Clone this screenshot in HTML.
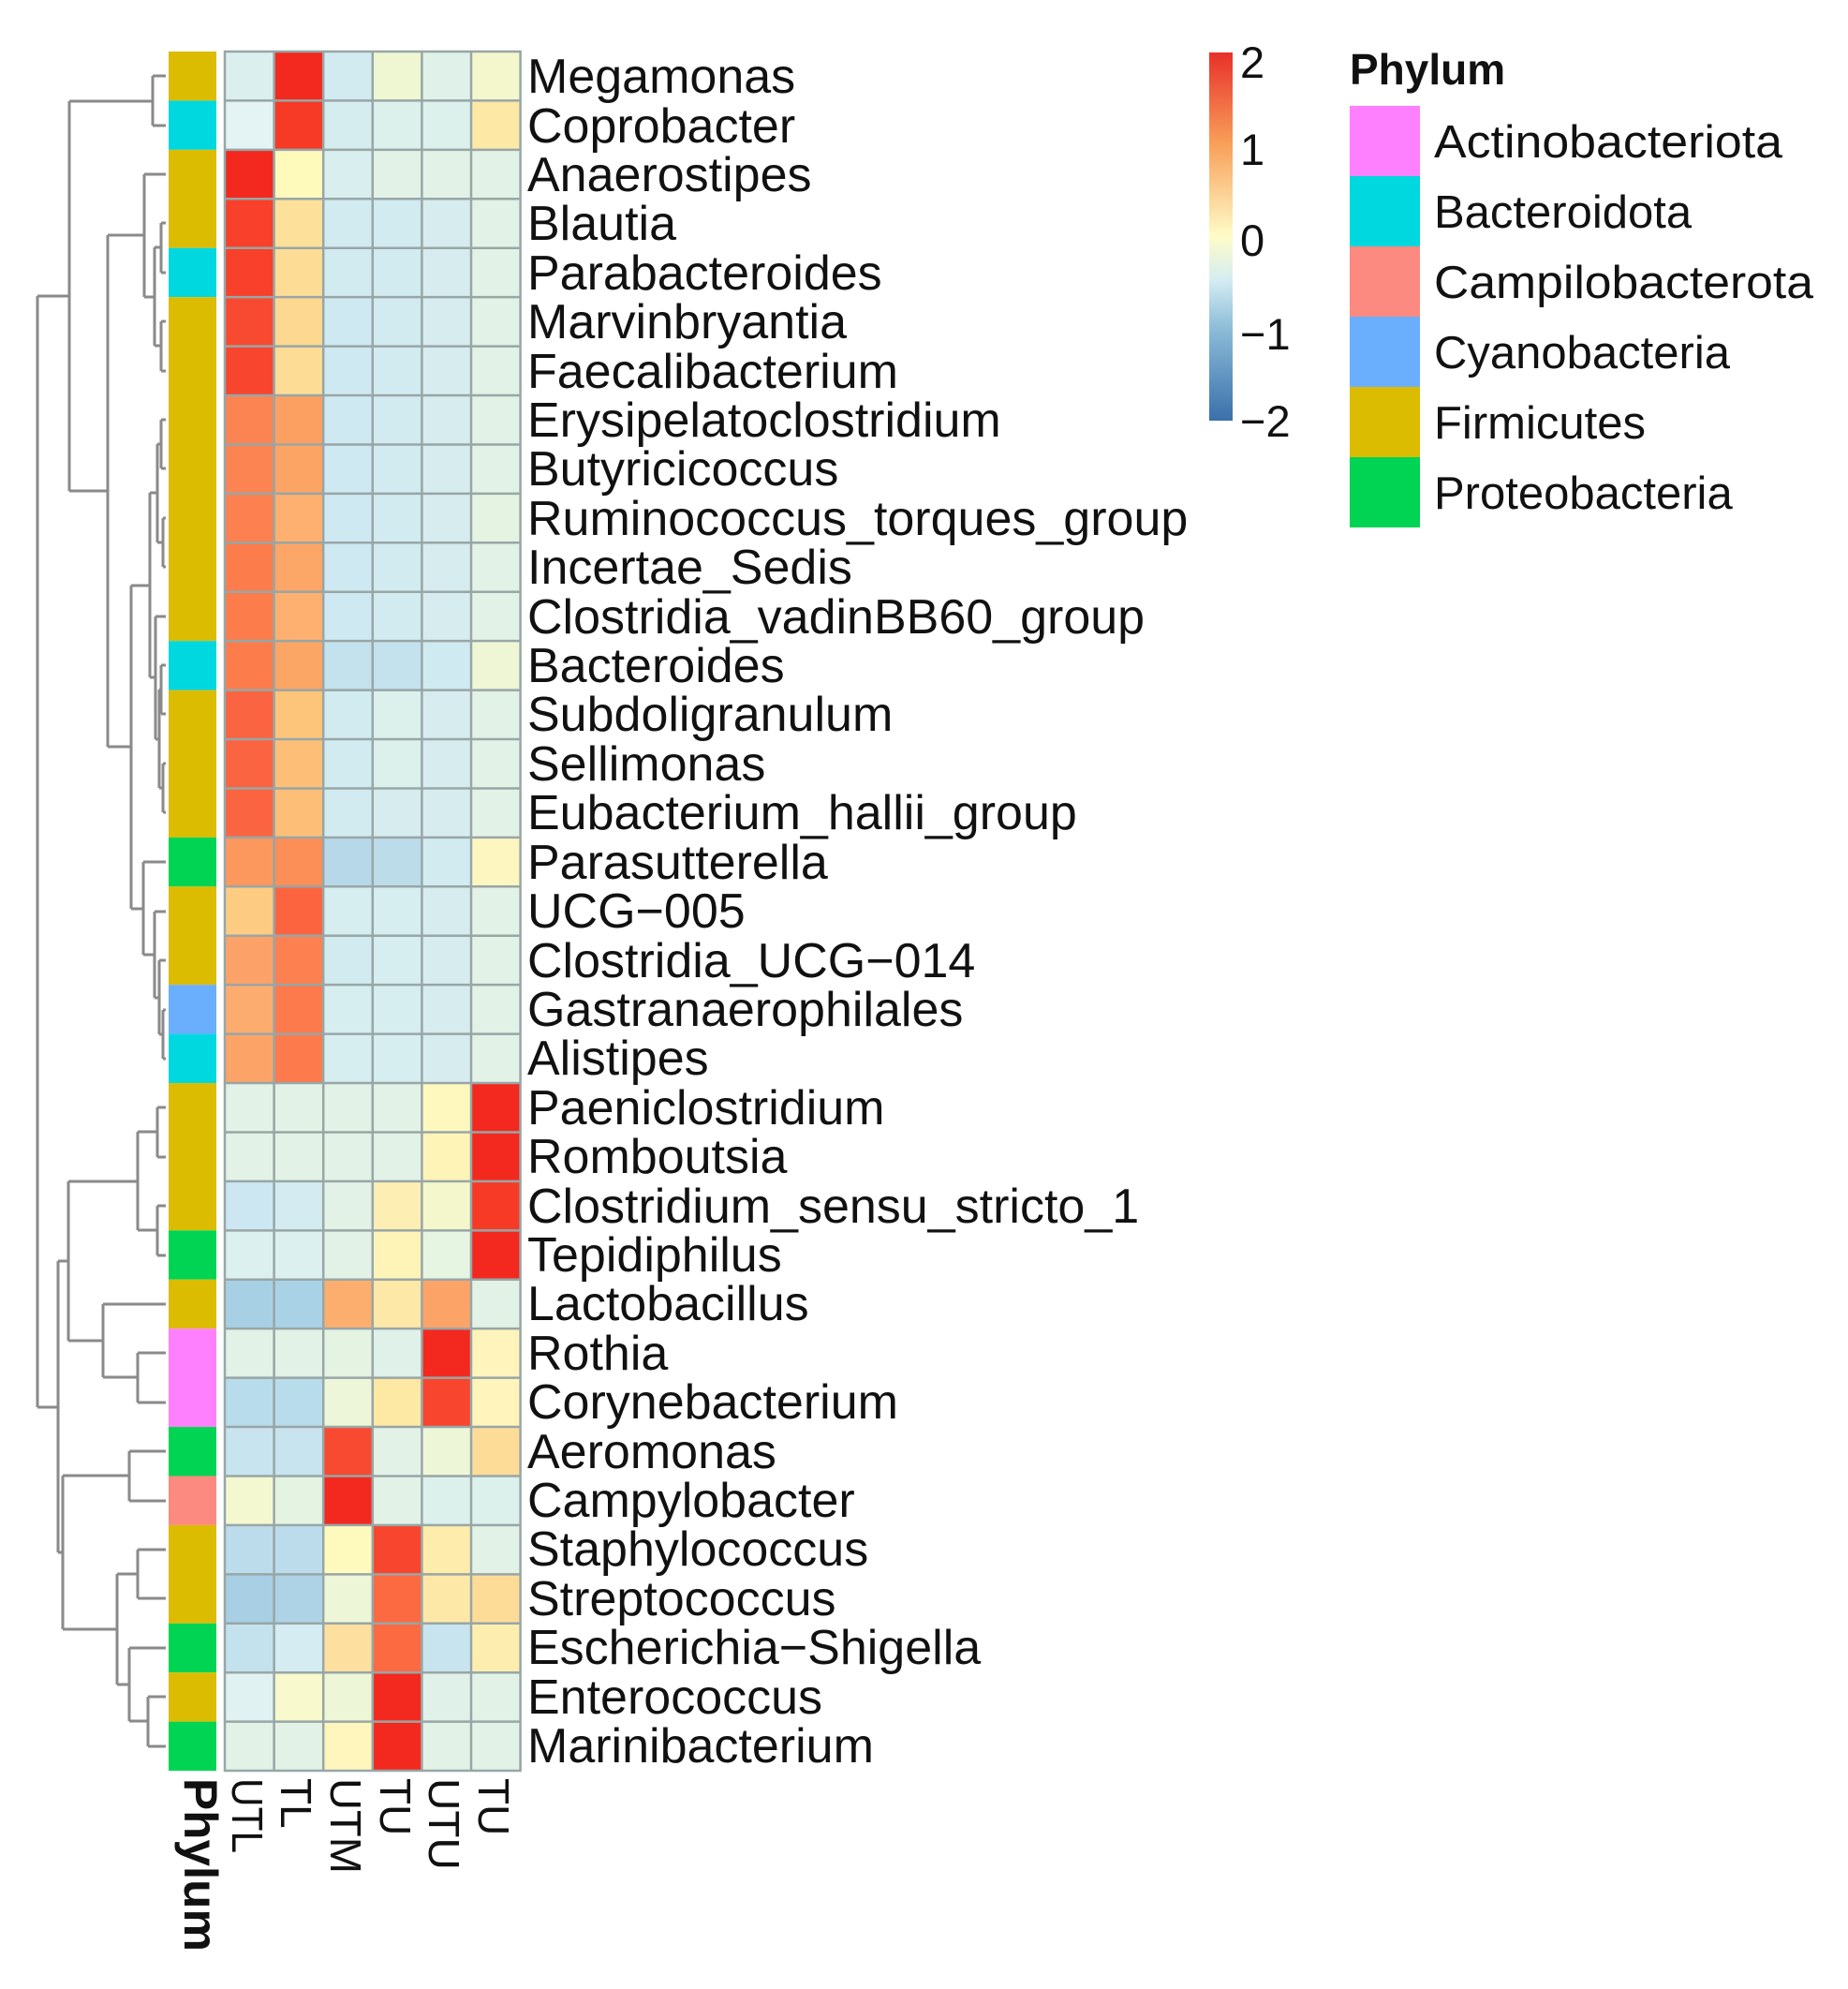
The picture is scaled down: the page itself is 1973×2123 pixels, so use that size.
<!DOCTYPE html>
<html><head><meta charset="utf-8"><style>
html,body{margin:0;padding:0;background:#fff}
svg{display:block}
text{font-family:"Liberation Sans",Arial,sans-serif;fill:#111}
</style></head><body>
<svg width="1973" height="2123" viewBox="0 0 1973 2123" xmlns="http://www.w3.org/2000/svg">
<defs>
<linearGradient id="cb" x1="0" y1="0" x2="0" y2="1">
<stop offset="0" stop-color="#e8302a"/>
<stop offset="0.25" stop-color="#f8a05a"/>
<stop offset="0.5" stop-color="#fefcc8"/>
<stop offset="0.62" stop-color="#d4ecf2"/>
<stop offset="0.75" stop-color="#8cbcd8"/>
<stop offset="1" stop-color="#3a70aa"/>
</linearGradient>
</defs>
<g stroke="#8a8a8a" stroke-width="3" fill="none">
<path d="M163,81H177M163,134H177M163,81V134"/>
<path d="M172,238H177M172,291H177M172,238V291M172,343H177M172,396H177M172,343V396M165,264H172M165,369H172M165,264V369M154,186H177M154,317H165M154,186V317"/>
<path d="M172,448H177M172,500H177M172,448V500M174,553H177M174,605H177M174,553V605M168,474H172M168,579H174M168,474V579"/>
<path d="M166,658H177M172,710H177M172,762H177M172,710V762M174,815H177M174,867H177M174,815V867M170,736H172M170,841H174M170,736V841M166,789H170M166,658V789"/>
<path d="M160,526H168M160,723H166M160,526V723"/>
<path d="M153,920H177M165,973H177M174,1078H177M174,1130H177M174,1078V1130M170,1025H177M170,1104H174M170,1025V1104M165,1065H170M165,973V1065M153,1019H165M153,920V1019"/>
<path d="M140,625H160M140,970H153M140,625V970"/>
<path d="M115,251H154M115,797H140M115,251V797"/>
<path d="M74,108H163M74,524H115M74,108V524"/>
<path d="M40,316H74M40,1502H62M40,316V1502"/>
<path d="M168,1182H177M168,1235H177M168,1182V1235M168,1287H177M168,1340H177M168,1287V1340M147,1208H168M147,1313H168M147,1208V1313"/>
<path d="M147,1444H177M147,1497H177M147,1444V1497M110,1392H177M110,1470H147M110,1392V1470"/>
<path d="M73,1261H147M73,1431H110M73,1261V1431"/>
<path d="M138,1549H177M138,1602H177M138,1549V1602"/>
<path d="M147,1654H177M147,1706H177M147,1654V1706"/>
<path d="M158,1811H177M158,1864H177M158,1811V1864M138,1759H177M138,1837H158M138,1759V1837"/>
<path d="M125,1680H147M125,1798H138M125,1680V1798"/>
<path d="M67,1575H138M67,1739H125M67,1575V1739"/>
<path d="M62,1346H73M62,1657H67M62,1346V1657"/>
</g>
<g>
<rect x="180" y="55" width="51" height="52.43" fill="#dcbc00"/>
<rect x="180" y="107.43" width="51" height="52.43" fill="#00d8e0"/>
<rect x="180" y="159.86" width="51" height="104.86" fill="#dcbc00"/>
<rect x="180" y="264.72" width="51" height="52.43" fill="#00d8e0"/>
<rect x="180" y="317.15" width="51" height="367.01" fill="#dcbc00"/>
<rect x="180" y="684.16" width="51" height="52.43" fill="#00d8e0"/>
<rect x="180" y="736.59" width="51" height="157.29" fill="#dcbc00"/>
<rect x="180" y="893.88" width="51" height="52.43" fill="#00d452"/>
<rect x="180" y="946.31" width="51" height="104.86" fill="#dcbc00"/>
<rect x="180" y="1051.17" width="51" height="52.43" fill="#6aaefe"/>
<rect x="180" y="1103.6" width="51" height="52.43" fill="#00d8e0"/>
<rect x="180" y="1156.03" width="51" height="157.29" fill="#dcbc00"/>
<rect x="180" y="1313.32" width="51" height="52.43" fill="#00d452"/>
<rect x="180" y="1365.75" width="51" height="52.43" fill="#dcbc00"/>
<rect x="180" y="1418.18" width="51" height="104.86" fill="#ff80ff"/>
<rect x="180" y="1523.04" width="51" height="52.43" fill="#00d452"/>
<rect x="180" y="1575.47" width="51" height="52.43" fill="#fd8a80"/>
<rect x="180" y="1627.9" width="51" height="104.86" fill="#dcbc00"/>
<rect x="180" y="1732.76" width="51" height="52.43" fill="#00d452"/>
<rect x="180" y="1785.19" width="51" height="52.43" fill="#dcbc00"/>
<rect x="180" y="1837.62" width="51" height="52.43" fill="#00d452"/>
</g>
<g id="hm">
<g transform="translate(0,55)"><rect x="240" width="52.6" height="52.43" fill="#dcefef"/><rect x="292.6" width="52.6" height="52.43" fill="#f3291f"/><rect x="345.2" width="52.6" height="52.43" fill="#d2ebf1"/><rect x="397.8" width="52.6" height="52.43" fill="#eef6d2"/><rect x="450.4" width="52.6" height="52.43" fill="#e0f1ea"/><rect x="503" width="52.6" height="52.43" fill="#f4f7cc"/></g>
<g transform="translate(0,107.43)"><rect x="240" width="52.6" height="52.43" fill="#e4f4f4"/><rect x="292.6" width="52.6" height="52.43" fill="#f63a26"/><rect x="345.2" width="52.6" height="52.43" fill="#d6edef"/><rect x="397.8" width="52.6" height="52.43" fill="#dcf0ec"/><rect x="450.4" width="52.6" height="52.43" fill="#dcf0ec"/><rect x="503" width="52.6" height="52.43" fill="#fde8a6"/></g>
<g transform="translate(0,159.86)"><rect x="240" width="52.6" height="52.43" fill="#f3291f"/><rect x="292.6" width="52.6" height="52.43" fill="#fefabc"/><rect x="345.2" width="52.6" height="52.43" fill="#d8eeef"/><rect x="397.8" width="52.6" height="52.43" fill="#e2f2e6"/><rect x="450.4" width="52.6" height="52.43" fill="#e2f2e6"/><rect x="503" width="52.6" height="52.43" fill="#e2f2e6"/></g>
<g transform="translate(0,212.29)"><rect x="240" width="52.6" height="52.43" fill="#f8402a"/><rect x="292.6" width="52.6" height="52.43" fill="#fde09a"/><rect x="345.2" width="52.6" height="52.43" fill="#d2ebf1"/><rect x="397.8" width="52.6" height="52.43" fill="#d2ebf1"/><rect x="450.4" width="52.6" height="52.43" fill="#d6ecef"/><rect x="503" width="52.6" height="52.43" fill="#e2f2e6"/></g>
<g transform="translate(0,264.72)"><rect x="240" width="52.6" height="52.43" fill="#f8402a"/><rect x="292.6" width="52.6" height="52.43" fill="#fddc96"/><rect x="345.2" width="52.6" height="52.43" fill="#d2ebf1"/><rect x="397.8" width="52.6" height="52.43" fill="#d2ebf1"/><rect x="450.4" width="52.6" height="52.43" fill="#d6ecef"/><rect x="503" width="52.6" height="52.43" fill="#e2f2e6"/></g>
<g transform="translate(0,317.15)"><rect x="240" width="52.6" height="52.43" fill="#f84a30"/><rect x="292.6" width="52.6" height="52.43" fill="#fdd890"/><rect x="345.2" width="52.6" height="52.43" fill="#cfe9f2"/><rect x="397.8" width="52.6" height="52.43" fill="#d2ebf1"/><rect x="450.4" width="52.6" height="52.43" fill="#d6ecef"/><rect x="503" width="52.6" height="52.43" fill="#e2f2e6"/></g>
<g transform="translate(0,369.58)"><rect x="240" width="52.6" height="52.43" fill="#f8452e"/><rect x="292.6" width="52.6" height="52.43" fill="#fddc96"/><rect x="345.2" width="52.6" height="52.43" fill="#cfe9f2"/><rect x="397.8" width="52.6" height="52.43" fill="#d2ebf1"/><rect x="450.4" width="52.6" height="52.43" fill="#d6ecef"/><rect x="503" width="52.6" height="52.43" fill="#e2f2e6"/></g>
<g transform="translate(0,422.01)"><rect x="240" width="52.6" height="52.43" fill="#fc8452"/><rect x="292.6" width="52.6" height="52.43" fill="#fca062"/><rect x="345.2" width="52.6" height="52.43" fill="#cfe9f2"/><rect x="397.8" width="52.6" height="52.43" fill="#d2ebf1"/><rect x="450.4" width="52.6" height="52.43" fill="#d6ecef"/><rect x="503" width="52.6" height="52.43" fill="#e2f2e6"/></g>
<g transform="translate(0,474.44)"><rect x="240" width="52.6" height="52.43" fill="#fc8452"/><rect x="292.6" width="52.6" height="52.43" fill="#fca464"/><rect x="345.2" width="52.6" height="52.43" fill="#cfe9f2"/><rect x="397.8" width="52.6" height="52.43" fill="#d2ebf1"/><rect x="450.4" width="52.6" height="52.43" fill="#d6ecef"/><rect x="503" width="52.6" height="52.43" fill="#e2f2e6"/></g>
<g transform="translate(0,526.87)"><rect x="240" width="52.6" height="52.43" fill="#fc8050"/><rect x="292.6" width="52.6" height="52.43" fill="#fdb070"/><rect x="345.2" width="52.6" height="52.43" fill="#cfe9f2"/><rect x="397.8" width="52.6" height="52.43" fill="#d2ebf1"/><rect x="450.4" width="52.6" height="52.43" fill="#d6ecef"/><rect x="503" width="52.6" height="52.43" fill="#e4f3e2"/></g>
<g transform="translate(0,579.3)"><rect x="240" width="52.6" height="52.43" fill="#fc7c4c"/><rect x="292.6" width="52.6" height="52.43" fill="#fca668"/><rect x="345.2" width="52.6" height="52.43" fill="#cfe9f2"/><rect x="397.8" width="52.6" height="52.43" fill="#d2ebf1"/><rect x="450.4" width="52.6" height="52.43" fill="#d6ecef"/><rect x="503" width="52.6" height="52.43" fill="#e2f2e6"/></g>
<g transform="translate(0,631.73)"><rect x="240" width="52.6" height="52.43" fill="#fc7c4c"/><rect x="292.6" width="52.6" height="52.43" fill="#fdb070"/><rect x="345.2" width="52.6" height="52.43" fill="#cfe9f2"/><rect x="397.8" width="52.6" height="52.43" fill="#d2ebf1"/><rect x="450.4" width="52.6" height="52.43" fill="#d6ecef"/><rect x="503" width="52.6" height="52.43" fill="#e2f2e6"/></g>
<g transform="translate(0,684.16)"><rect x="240" width="52.6" height="52.43" fill="#fc7c4c"/><rect x="292.6" width="52.6" height="52.43" fill="#fca666"/><rect x="345.2" width="52.6" height="52.43" fill="#c4e2ee"/><rect x="397.8" width="52.6" height="52.43" fill="#c4e2ee"/><rect x="450.4" width="52.6" height="52.43" fill="#d0eaf1"/><rect x="503" width="52.6" height="52.43" fill="#eef6d6"/></g>
<g transform="translate(0,736.59)"><rect x="240" width="52.6" height="52.43" fill="#fb6440"/><rect x="292.6" width="52.6" height="52.43" fill="#fdc57a"/><rect x="345.2" width="52.6" height="52.43" fill="#d2ebf1"/><rect x="397.8" width="52.6" height="52.43" fill="#dcf0ec"/><rect x="450.4" width="52.6" height="52.43" fill="#d6ecef"/><rect x="503" width="52.6" height="52.43" fill="#e2f2e6"/></g>
<g transform="translate(0,789.02)"><rect x="240" width="52.6" height="52.43" fill="#fb6440"/><rect x="292.6" width="52.6" height="52.43" fill="#fdbf78"/><rect x="345.2" width="52.6" height="52.43" fill="#d2ebf1"/><rect x="397.8" width="52.6" height="52.43" fill="#dcf0ec"/><rect x="450.4" width="52.6" height="52.43" fill="#d6ecef"/><rect x="503" width="52.6" height="52.43" fill="#e2f2e6"/></g>
<g transform="translate(0,841.45)"><rect x="240" width="52.6" height="52.43" fill="#fb6440"/><rect x="292.6" width="52.6" height="52.43" fill="#fdbf78"/><rect x="345.2" width="52.6" height="52.43" fill="#d2ebf1"/><rect x="397.8" width="52.6" height="52.43" fill="#d6ecef"/><rect x="450.4" width="52.6" height="52.43" fill="#d6ecef"/><rect x="503" width="52.6" height="52.43" fill="#e2f2e6"/></g>
<g transform="translate(0,893.88)"><rect x="240" width="52.6" height="52.43" fill="#fc985e"/><rect x="292.6" width="52.6" height="52.43" fill="#fc8e58"/><rect x="345.2" width="52.6" height="52.43" fill="#b6d8e8"/><rect x="397.8" width="52.6" height="52.43" fill="#bcdcea"/><rect x="450.4" width="52.6" height="52.43" fill="#d2ebf1"/><rect x="503" width="52.6" height="52.43" fill="#fef6c0"/></g>
<g transform="translate(0,946.31)"><rect x="240" width="52.6" height="52.43" fill="#fdcc82"/><rect x="292.6" width="52.6" height="52.43" fill="#fc6440"/><rect x="345.2" width="52.6" height="52.43" fill="#d6eef0"/><rect x="397.8" width="52.6" height="52.43" fill="#d6eef0"/><rect x="450.4" width="52.6" height="52.43" fill="#d6ecef"/><rect x="503" width="52.6" height="52.43" fill="#e2f2e6"/></g>
<g transform="translate(0,998.74)"><rect x="240" width="52.6" height="52.43" fill="#fca268"/><rect x="292.6" width="52.6" height="52.43" fill="#fc8050"/><rect x="345.2" width="52.6" height="52.43" fill="#d2ebf1"/><rect x="397.8" width="52.6" height="52.43" fill="#d6eef0"/><rect x="450.4" width="52.6" height="52.43" fill="#d6ecef"/><rect x="503" width="52.6" height="52.43" fill="#e2f2e6"/></g>
<g transform="translate(0,1051.17)"><rect x="240" width="52.6" height="52.43" fill="#fdac70"/><rect x="292.6" width="52.6" height="52.43" fill="#fc7a4c"/><rect x="345.2" width="52.6" height="52.43" fill="#d6eef0"/><rect x="397.8" width="52.6" height="52.43" fill="#d6eef0"/><rect x="450.4" width="52.6" height="52.43" fill="#d6ecef"/><rect x="503" width="52.6" height="52.43" fill="#e2f2e6"/></g>
<g transform="translate(0,1103.6)"><rect x="240" width="52.6" height="52.43" fill="#fca468"/><rect x="292.6" width="52.6" height="52.43" fill="#fc7a4c"/><rect x="345.2" width="52.6" height="52.43" fill="#d6eef0"/><rect x="397.8" width="52.6" height="52.43" fill="#d6eef0"/><rect x="450.4" width="52.6" height="52.43" fill="#d6ecef"/><rect x="503" width="52.6" height="52.43" fill="#e2f2e6"/></g>
<g transform="translate(0,1156.03)"><rect x="240" width="52.6" height="52.43" fill="#e2f2e6"/><rect x="292.6" width="52.6" height="52.43" fill="#e2f2e6"/><rect x="345.2" width="52.6" height="52.43" fill="#e2f2e6"/><rect x="397.8" width="52.6" height="52.43" fill="#e2f2e6"/><rect x="450.4" width="52.6" height="52.43" fill="#fef8be"/><rect x="503" width="52.6" height="52.43" fill="#f3291f"/></g>
<g transform="translate(0,1208.46)"><rect x="240" width="52.6" height="52.43" fill="#e2f2e6"/><rect x="292.6" width="52.6" height="52.43" fill="#e2f2e6"/><rect x="345.2" width="52.6" height="52.43" fill="#e2f2e6"/><rect x="397.8" width="52.6" height="52.43" fill="#e2f2e6"/><rect x="450.4" width="52.6" height="52.43" fill="#fef4b8"/><rect x="503" width="52.6" height="52.43" fill="#f3291f"/></g>
<g transform="translate(0,1260.89)"><rect x="240" width="52.6" height="52.43" fill="#cce7f1"/><rect x="292.6" width="52.6" height="52.43" fill="#d4ecf1"/><rect x="345.2" width="52.6" height="52.43" fill="#e2f2e6"/><rect x="397.8" width="52.6" height="52.43" fill="#fdeeb4"/><rect x="450.4" width="52.6" height="52.43" fill="#f4f7cc"/><rect x="503" width="52.6" height="52.43" fill="#f63a26"/></g>
<g transform="translate(0,1313.32)"><rect x="240" width="52.6" height="52.43" fill="#dcf0f0"/><rect x="292.6" width="52.6" height="52.43" fill="#dcf0f0"/><rect x="345.2" width="52.6" height="52.43" fill="#e2f2e6"/><rect x="397.8" width="52.6" height="52.43" fill="#fef4b8"/><rect x="450.4" width="52.6" height="52.43" fill="#e6f4e2"/><rect x="503" width="52.6" height="52.43" fill="#f3291f"/></g>
<g transform="translate(0,1365.75)"><rect x="240" width="52.6" height="52.43" fill="#a8d0e4"/><rect x="292.6" width="52.6" height="52.43" fill="#aad2e6"/><rect x="345.2" width="52.6" height="52.43" fill="#fcae6e"/><rect x="397.8" width="52.6" height="52.43" fill="#fde8a8"/><rect x="450.4" width="52.6" height="52.43" fill="#fca468"/><rect x="503" width="52.6" height="52.43" fill="#e2f2e6"/></g>
<g transform="translate(0,1418.18)"><rect x="240" width="52.6" height="52.43" fill="#e2f2e6"/><rect x="292.6" width="52.6" height="52.43" fill="#e2f2e6"/><rect x="345.2" width="52.6" height="52.43" fill="#e4f3e2"/><rect x="397.8" width="52.6" height="52.43" fill="#e0f1ea"/><rect x="450.4" width="52.6" height="52.43" fill="#f3291f"/><rect x="503" width="52.6" height="52.43" fill="#fef4bc"/></g>
<g transform="translate(0,1470.61)"><rect x="240" width="52.6" height="52.43" fill="#b8dcec"/><rect x="292.6" width="52.6" height="52.43" fill="#b8dcec"/><rect x="345.2" width="52.6" height="52.43" fill="#eef6da"/><rect x="397.8" width="52.6" height="52.43" fill="#fde8a4"/><rect x="450.4" width="52.6" height="52.43" fill="#f8452e"/><rect x="503" width="52.6" height="52.43" fill="#fef4bc"/></g>
<g transform="translate(0,1523.04)"><rect x="240" width="52.6" height="52.43" fill="#c8e4ee"/><rect x="292.6" width="52.6" height="52.43" fill="#c8e4ee"/><rect x="345.2" width="52.6" height="52.43" fill="#f84a30"/><rect x="397.8" width="52.6" height="52.43" fill="#e2f2e6"/><rect x="450.4" width="52.6" height="52.43" fill="#eef6d8"/><rect x="503" width="52.6" height="52.43" fill="#fddc98"/></g>
<g transform="translate(0,1575.47)"><rect x="240" width="52.6" height="52.43" fill="#f4f8d0"/><rect x="292.6" width="52.6" height="52.43" fill="#e4f3e2"/><rect x="345.2" width="52.6" height="52.43" fill="#f3291f"/><rect x="397.8" width="52.6" height="52.43" fill="#e2f2e6"/><rect x="450.4" width="52.6" height="52.43" fill="#dcf0ec"/><rect x="503" width="52.6" height="52.43" fill="#dcf0ec"/></g>
<g transform="translate(0,1627.9)"><rect x="240" width="52.6" height="52.43" fill="#bcdcec"/><rect x="292.6" width="52.6" height="52.43" fill="#bcdcec"/><rect x="345.2" width="52.6" height="52.43" fill="#fefabe"/><rect x="397.8" width="52.6" height="52.43" fill="#f8452e"/><rect x="450.4" width="52.6" height="52.43" fill="#fdecac"/><rect x="503" width="52.6" height="52.43" fill="#e2f2e6"/></g>
<g transform="translate(0,1680.33)"><rect x="240" width="52.6" height="52.43" fill="#a8cfe4"/><rect x="292.6" width="52.6" height="52.43" fill="#aed2e6"/><rect x="345.2" width="52.6" height="52.43" fill="#eef6d8"/><rect x="397.8" width="52.6" height="52.43" fill="#fc6a42"/><rect x="450.4" width="52.6" height="52.43" fill="#fde8a8"/><rect x="503" width="52.6" height="52.43" fill="#fddc98"/></g>
<g transform="translate(0,1732.76)"><rect x="240" width="52.6" height="52.43" fill="#c4e2ee"/><rect x="292.6" width="52.6" height="52.43" fill="#d4ecf2"/><rect x="345.2" width="52.6" height="52.43" fill="#fde0a0"/><rect x="397.8" width="52.6" height="52.43" fill="#fc6a42"/><rect x="450.4" width="52.6" height="52.43" fill="#c8e4ee"/><rect x="503" width="52.6" height="52.43" fill="#fdeeb0"/></g>
<g transform="translate(0,1785.19)"><rect x="240" width="52.6" height="52.43" fill="#e0f2f2"/><rect x="292.6" width="52.6" height="52.43" fill="#f8f9cc"/><rect x="345.2" width="52.6" height="52.43" fill="#eef6d8"/><rect x="397.8" width="52.6" height="52.43" fill="#f3291f"/><rect x="450.4" width="52.6" height="52.43" fill="#e0f1ea"/><rect x="503" width="52.6" height="52.43" fill="#e2f2e6"/></g>
<g transform="translate(0,1837.62)"><rect x="240" width="52.6" height="52.43" fill="#e2f2e6"/><rect x="292.6" width="52.6" height="52.43" fill="#e2f2e6"/><rect x="345.2" width="52.6" height="52.43" fill="#fef6bc"/><rect x="397.8" width="52.6" height="52.43" fill="#f3291f"/><rect x="450.4" width="52.6" height="52.43" fill="#e2f2e6"/><rect x="503" width="52.6" height="52.43" fill="#e2f2e6"/></g>
</g>
<g stroke="#98a6a6" stroke-width="2.5" fill="none">
<rect x="240" y="55" width="315.6" height="1835"/>
<path d="M292.6,55V1890M345.2,55V1890M397.8,55V1890M450.4,55V1890M503,55V1890"/>
<path d="M240,107.43H555.6M240,159.86H555.6M240,212.29H555.6M240,264.72H555.6M240,317.15H555.6M240,369.58H555.6M240,422.01H555.6M240,474.44H555.6M240,526.87H555.6M240,579.3H555.6M240,631.73H555.6M240,684.16H555.6M240,736.59H555.6M240,789.02H555.6M240,841.45H555.6M240,893.88H555.6M240,946.31H555.6M240,998.74H555.6M240,1051.17H555.6M240,1103.6H555.6M240,1156.03H555.6M240,1208.46H555.6M240,1260.89H555.6M240,1313.32H555.6M240,1365.75H555.6M240,1418.18H555.6M240,1470.61H555.6M240,1523.04H555.6M240,1575.47H555.6M240,1627.9H555.6M240,1680.33H555.6M240,1732.76H555.6M240,1785.19H555.6M240,1837.62H555.6"/>
</g>
<g font-size="52">
<text x="563" y="99">Megamonas</text>
<text x="563" y="152">Coprobacter</text>
<text x="563" y="204">Anaerostipes</text>
<text x="563" y="256">Blautia</text>
<text x="563" y="309">Parabacteroides</text>
<text x="563" y="361">Marvinbryantia</text>
<text x="563" y="414">Faecalibacterium</text>
<text x="563" y="466">Erysipelatoclostridium</text>
<text x="563" y="518">Butyricicoccus</text>
<text x="563" y="571">Ruminococcus_torques_group</text>
<text x="563" y="623">Incertae_Sedis</text>
<text x="563" y="676">Clostridia_vadinBB60_group</text>
<text x="563" y="728">Bacteroides</text>
<text x="563" y="780">Subdoligranulum</text>
<text x="563" y="833">Sellimonas</text>
<text x="563" y="885">Eubacterium_hallii_group</text>
<text x="563" y="938">Parasutterella</text>
<text x="563" y="990">UCG−005</text>
<text x="563" y="1043">Clostridia_UCG−014</text>
<text x="563" y="1095">Gastranaerophilales</text>
<text x="563" y="1147">Alistipes</text>
<text x="563" y="1200">Paeniclostridium</text>
<text x="563" y="1252">Romboutsia</text>
<text x="563" y="1305">Clostridium_sensu_stricto_1</text>
<text x="563" y="1357">Tepidiphilus</text>
<text x="563" y="1409">Lactobacillus</text>
<text x="563" y="1462">Rothia</text>
<text x="563" y="1514">Corynebacterium</text>
<text x="563" y="1567">Aeromonas</text>
<text x="563" y="1619">Campylobacter</text>
<text x="563" y="1671">Staphylococcus</text>
<text x="563" y="1724">Streptococcus</text>
<text x="563" y="1776">Escherichia−Shigella</text>
<text x="563" y="1829">Enterococcus</text>
<text x="563" y="1881">Marinibacterium</text>
</g>
<g font-size="46">
<text transform="translate(248,1898) rotate(90)" textLength="80" lengthAdjust="spacingAndGlyphs">UTL</text>
<text transform="translate(300,1898) rotate(90)">TL</text>
<text transform="translate(353,1898) rotate(90)" textLength="102" lengthAdjust="spacingAndGlyphs">UTM</text>
<text transform="translate(406,1898) rotate(90)">TU</text>
<text transform="translate(458,1898) rotate(90)" textLength="98" lengthAdjust="spacingAndGlyphs">UTU</text>
<text transform="translate(511,1898) rotate(90)">TU</text>
<text transform="translate(197,1898) rotate(90)" font-weight="bold" font-size="50" textLength="185" lengthAdjust="spacingAndGlyphs">Phylum</text>
</g>
<rect x="1291" y="56" width="25" height="393" fill="url(#cb)"/>
<g font-size="47">
<text x="1324" y="83">2</text>
<text x="1324" y="176">1</text>
<text x="1324" y="273">0</text>
<text x="1324" y="373">−1</text>
<text x="1324" y="466">−2</text>
</g>
<text x="1441" y="90" font-size="46" font-weight="bold">Phylum</text>
<rect x="1441" y="113" width="75" height="75" fill="#ff80ff"/>
<rect x="1441" y="188" width="75" height="75" fill="#00d8e0"/>
<rect x="1441" y="263" width="75" height="75" fill="#fd8a80"/>
<rect x="1441" y="338" width="75" height="75" fill="#6aaefe"/>
<rect x="1441" y="413" width="75" height="75" fill="#dcbc00"/>
<rect x="1441" y="488" width="75" height="75" fill="#00d452"/>
<g font-size="49">
<text x="1531" y="168" textLength="372" lengthAdjust="spacingAndGlyphs">Actinobacteriota</text>
<text x="1531" y="243">Bacteroidota</text>
<text x="1531" y="318" textLength="405" lengthAdjust="spacingAndGlyphs">Campilobacterota</text>
<text x="1531" y="393">Cyanobacteria</text>
<text x="1531" y="468">Firmicutes</text>
<text x="1531" y="543">Proteobacteria</text>
</g>
</svg>
</body></html>
